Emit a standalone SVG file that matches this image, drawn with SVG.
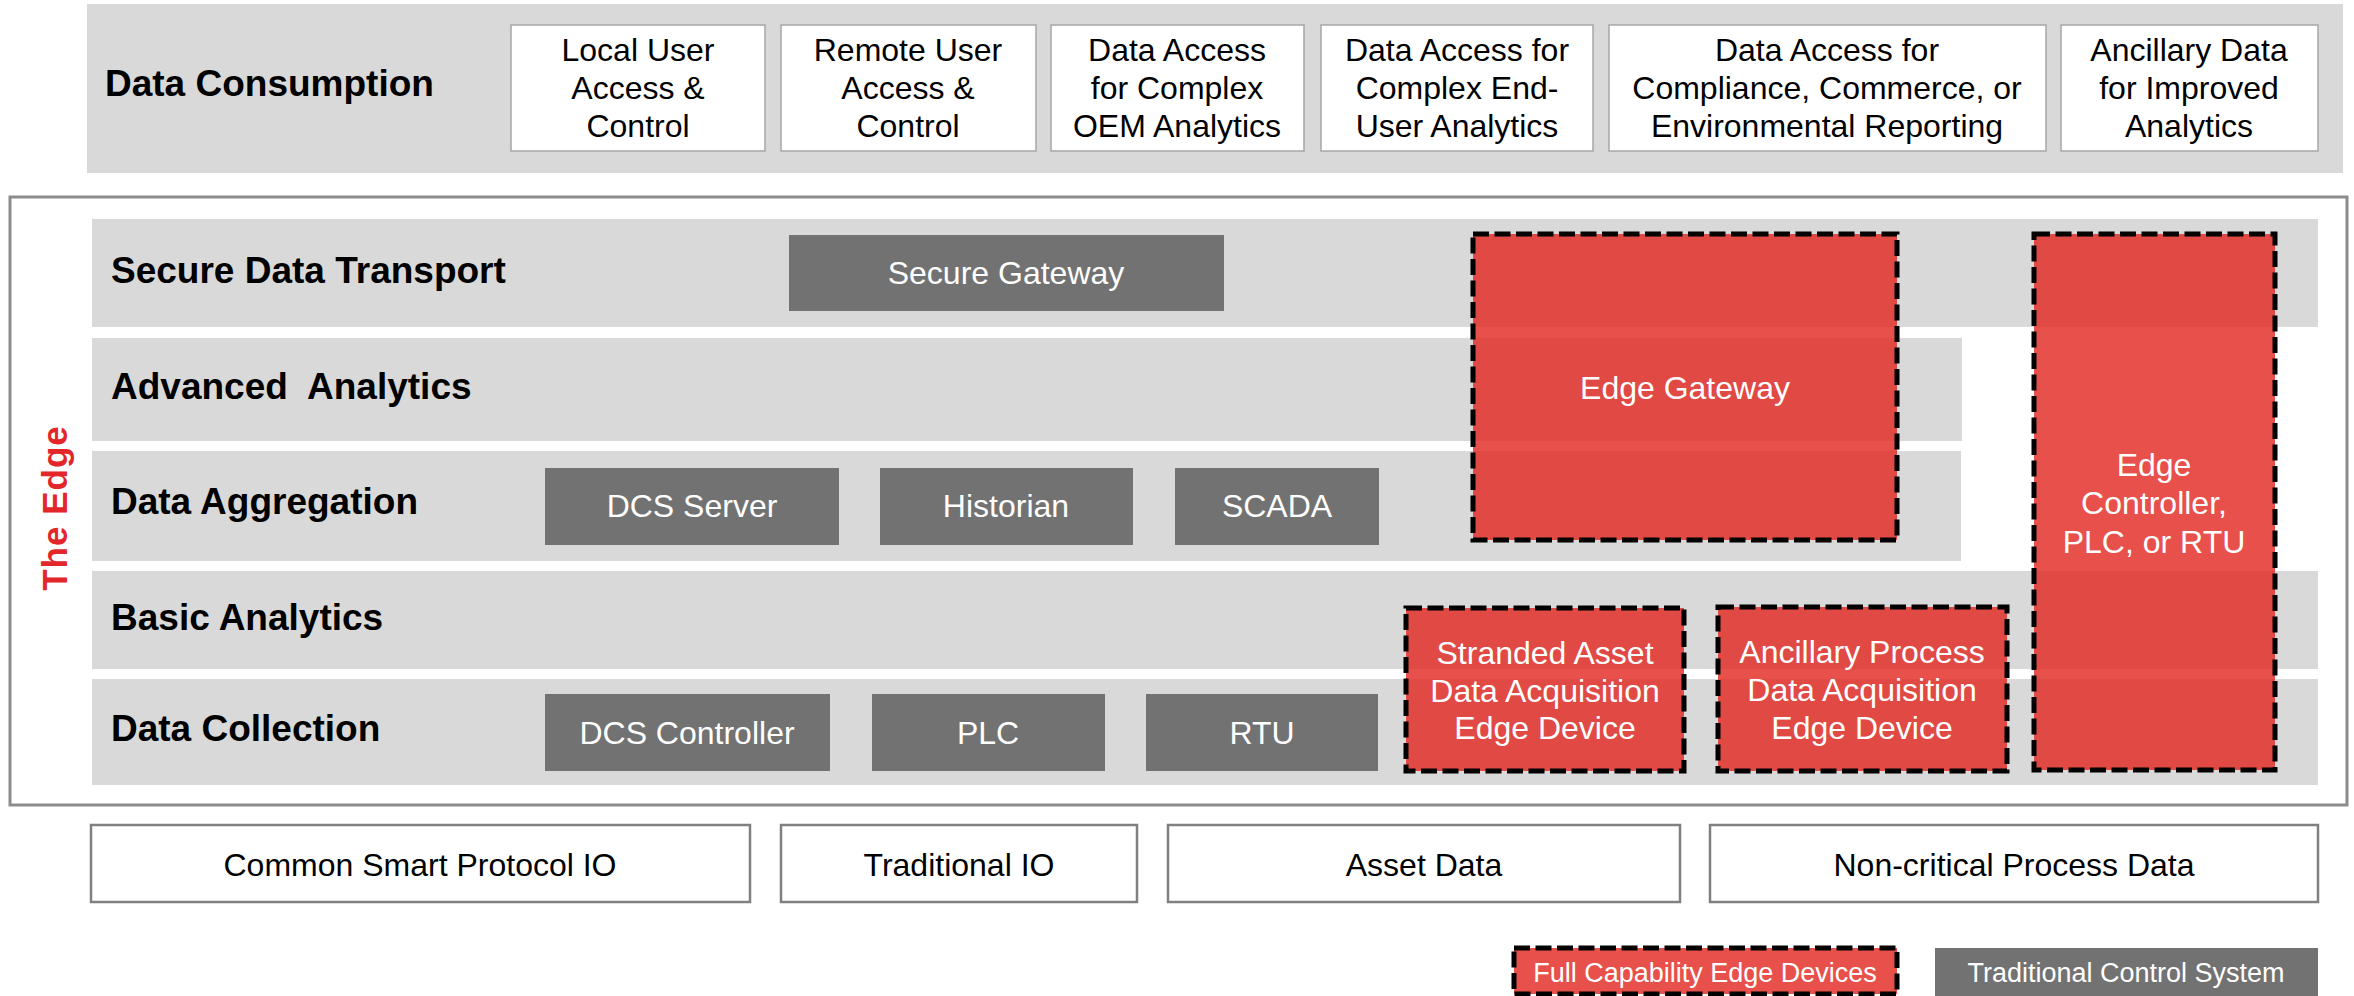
<svg xmlns="http://www.w3.org/2000/svg" width="2354" height="996" viewBox="0 0 2354 996">
<style>
text{font-family:"Liberation Sans",Arial,sans-serif}
.band{fill:#d9d9d9}
.lbl{font-size:37px;font-weight:bold;fill:#000}
.wbox{fill:#fff;stroke:#a6a6a6;stroke-width:1.5}
.bbox{fill:#fff;stroke:#808080;stroke-width:2.5}
.wt{font-size:32px;fill:#000;text-anchor:middle}
.gbox{fill:#727272}
.gt{font-size:32px;fill:#fff;text-anchor:middle}
.rbox{fill:rgb(227,39,33);fill-opacity:0.81;stroke:#000;stroke-width:5;stroke-dasharray:16 5.5}
.lt{font-size:27px;fill:#fff;text-anchor:middle}
</style>
<rect width="2354" height="996" fill="#fff"/>

<g id="data-consumption">
<rect class="band" x="87" y="4" width="2256" height="169"/>
<text class="lbl" x="105" y="96">Data Consumption</text>
</g>
<g id="local-user">
<rect class="wbox" x="511" y="25" width="254" height="126"/>
<text class="wt" x="638" y="61">Local User</text>
<text class="wt" x="638" y="99">Access &amp;</text>
<text class="wt" x="638" y="137">Control</text>
</g>
<g id="remote-user">
<rect class="wbox" x="781" y="25" width="255" height="126"/>
<text class="wt" x="908" y="61">Remote User</text>
<text class="wt" x="908" y="99">Access &amp;</text>
<text class="wt" x="908" y="137">Control</text>
</g>
<g id="oem-analytics">
<rect class="wbox" x="1051" y="25" width="253" height="126"/>
<text class="wt" x="1177" y="61">Data Access</text>
<text class="wt" x="1177" y="99">for Complex</text>
<text class="wt" x="1177" y="137">OEM Analytics</text>
</g>
<g id="enduser-analytics">
<rect class="wbox" x="1321" y="25" width="272" height="126"/>
<text class="wt" x="1457" y="61">Data Access for</text>
<text class="wt" x="1457" y="99">Complex End-</text>
<text class="wt" x="1457" y="137">User Analytics</text>
</g>
<g id="compliance">
<rect class="wbox" x="1609" y="25" width="437" height="126"/>
<text class="wt" x="1827" y="61">Data Access for</text>
<text class="wt" x="1827" y="99">Compliance, Commerce, or</text>
<text class="wt" x="1827" y="137">Environmental Reporting</text>
</g>
<g id="ancillary-data">
<rect class="wbox" x="2061" y="25" width="257" height="126"/>
<text class="wt" x="2189" y="61">Ancillary Data</text>
<text class="wt" x="2189" y="99">for Improved</text>
<text class="wt" x="2189" y="137">Analytics</text>
</g>

<g id="the-edge">
<rect x="10" y="197" width="2337" height="608" fill="none" stroke="#8c8c8c" stroke-width="3"/>
<text x="67" y="508" transform="rotate(-90 67 508)" text-anchor="middle" style="font-weight:bold;font-size:35px;letter-spacing:1px;fill:#e3262a">The Edge</text>
</g>

<g id="secure-data-transport">
<rect class="band" x="92" y="219" width="2226" height="108"/>
<text class="lbl" x="111" y="283">Secure Data Transport</text>
</g>
<g id="advanced-analytics">
<rect class="band" x="92" y="338" width="1870" height="103"/>
<text class="lbl" x="111" y="399" style="white-space:pre" xml:space="preserve">Advanced  Analytics</text>
</g>
<g id="data-aggregation">
<rect class="band" x="92" y="451" width="1869" height="110"/>
<text class="lbl" x="111" y="514">Data Aggregation</text>
</g>
<g id="basic-analytics">
<rect class="band" x="92" y="571" width="2226" height="98"/>
<text class="lbl" x="111" y="630">Basic Analytics</text>
</g>
<g id="data-collection">
<rect class="band" x="92" y="679" width="2226" height="106"/>
<text class="lbl" x="111" y="741">Data Collection</text>
</g>

<g id="secure-gateway">
<rect class="gbox" x="789" y="235" width="435" height="76"/>
<text class="gt" x="1006" y="284">Secure Gateway</text>
</g>
<g id="dcs-server">
<rect class="gbox" x="545" y="468" width="294" height="77"/>
<text class="gt" x="692" y="517">DCS Server</text>
</g>
<g id="historian">
<rect class="gbox" x="880" y="468" width="253" height="77"/>
<text class="gt" x="1006" y="517">Historian</text>
</g>
<g id="scada">
<rect class="gbox" x="1175" y="468" width="204" height="77"/>
<text class="gt" x="1277" y="517">SCADA</text>
</g>
<g id="dcs-controller">
<rect class="gbox" x="545" y="694" width="285" height="77"/>
<text class="gt" x="687" y="744">DCS Controller</text>
</g>
<g id="plc">
<rect class="gbox" x="872" y="694" width="233" height="77"/>
<text class="gt" x="988" y="744">PLC</text>
</g>
<g id="rtu">
<rect class="gbox" x="1146" y="694" width="232" height="77"/>
<text class="gt" x="1262" y="744">RTU</text>
</g>

<g id="edge-gateway">
<rect class="rbox" x="1473" y="234" width="424" height="306"/>
<text class="gt" x="1685" y="399">Edge Gateway</text>
</g>
<g id="edge-controller">
<rect class="rbox" x="2034" y="234" width="241" height="536"/>
<text class="gt" x="2154" y="476">Edge</text>
<text class="gt" x="2154" y="514">Controller,</text>
<text class="gt" x="2154" y="553">PLC, or RTU</text>
</g>
<g id="stranded-asset">
<rect class="rbox" x="1406" y="608" width="278" height="163"/>
<text class="gt" x="1545" y="664">Stranded Asset</text>
<text class="gt" x="1545" y="702">Data Acquisition</text>
<text class="gt" x="1545" y="739">Edge Device</text>
</g>
<g id="ancillary-process">
<rect class="rbox" x="1718" y="607" width="289" height="164"/>
<text class="gt" x="1862" y="663">Ancillary Process</text>
<text class="gt" x="1862" y="701">Data Acquisition</text>
<text class="gt" x="1862" y="739">Edge Device</text>
</g>

<g id="common-smart-io">
<rect class="bbox" x="91" y="825" width="659" height="77"/>
<text class="wt" x="420" y="876">Common Smart Protocol IO</text>
</g>
<g id="traditional-io">
<rect class="bbox" x="781" y="825" width="356" height="77"/>
<text class="wt" x="959" y="876">Traditional IO</text>
</g>
<g id="asset-data">
<rect class="bbox" x="1168" y="825" width="512" height="77"/>
<text class="wt" x="1424" y="876">Asset Data</text>
</g>
<g id="non-critical">
<rect class="bbox" x="1710" y="825" width="608" height="77"/>
<text class="wt" x="2014" y="876">Non-critical Process Data</text>
</g>

<g id="legend-edge">
<rect class="rbox" x="1514" y="948" width="383" height="46"/>
<text class="lt" x="1705" y="982">Full Capability Edge Devices</text>
</g>
<g id="legend-traditional">
<rect class="gbox" x="1935" y="948" width="383" height="48"/>
<text class="lt" x="2126" y="982">Traditional Control System</text>
</g>
<g id="connectors"></g>
</svg>
